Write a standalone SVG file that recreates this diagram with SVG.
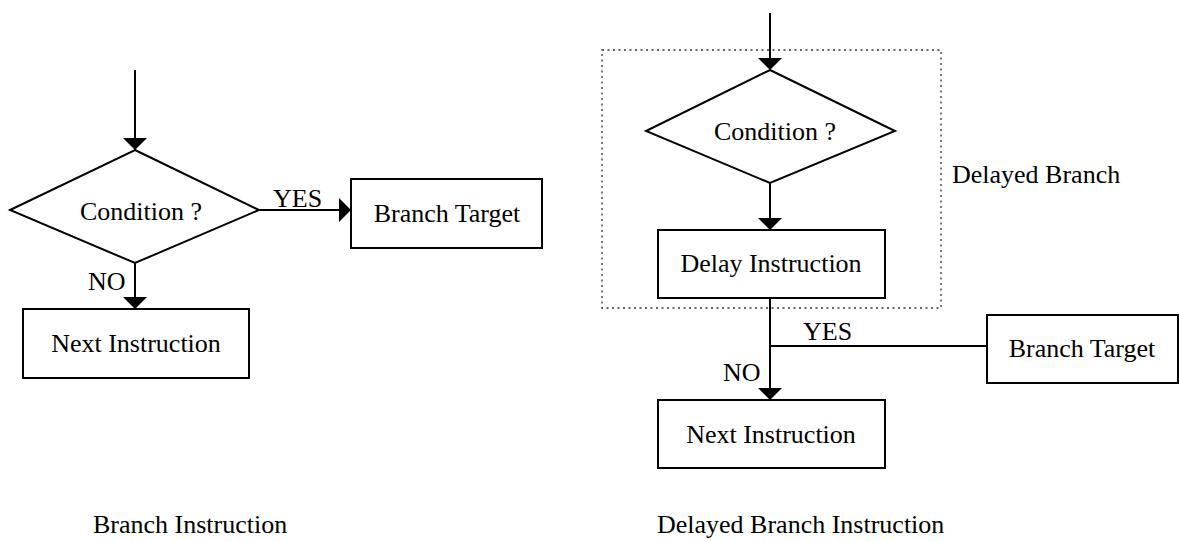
<svg xmlns="http://www.w3.org/2000/svg" width="1179" height="541" viewBox="0 0 1179 541">
<defs>
<style>
.shape{fill:#fff;stroke:#000;stroke-width:2}
.line{fill:none;stroke:#000;stroke-width:2}
.dot{fill:none;stroke:#333;stroke-width:1.3;stroke-dasharray:2 3.5}
text{font-family:"Liberation Serif","Times New Roman",serif;font-size:26px;fill:#000}
.c{text-anchor:middle}
</style>
<marker id="ah" viewBox="0 0 12 24" refX="12" refY="12" markerWidth="12" markerHeight="24" markerUnits="userSpaceOnUse" orient="auto">
<path d="M0,0 L12,12 L0,24 Z" fill="#000"/>
</marker>
</defs>
<rect width="1179" height="541" fill="#fff"/>
<g id="delayed-branch-group">
<rect class="dot" x="602" y="50" width="339" height="258"/>
<text x="952" y="183">Delayed Branch</text>
</g>
<g id="connectors">
<line class="line" x1="135" y1="70" x2="135" y2="150" marker-end="url(#ah)"/>
<line class="line" x1="259" y1="210" x2="351" y2="210" marker-end="url(#ah)"/>
<line class="line" x1="135" y1="263" x2="135" y2="309" marker-end="url(#ah)"/>
<text x="273" y="207">YES</text>
<text x="88" y="290">NO</text>
<line class="line" x1="770" y1="13" x2="770" y2="70" marker-end="url(#ah)"/>
<line class="line" x1="770" y1="183" x2="770" y2="230" marker-end="url(#ah)"/>
<line class="line" x1="770" y1="298" x2="770" y2="400" marker-end="url(#ah)"/>
<line class="line" x1="770" y1="346" x2="987" y2="346"/>
<text x="803" y="340">YES</text>
<text x="723" y="381">NO</text>
</g>
<g id="left-condition">
<polygon class="shape" points="135,150 259,210 135,263 10,210"/>
<text class="c" x="141" y="220">Condition ?</text>
</g>
<g id="left-branch-target">
<rect class="shape" x="351" y="179" width="191" height="69"/>
<text class="c" x="447" y="222">Branch Target</text>
</g>
<g id="left-next-instruction">
<rect class="shape" x="23" y="309" width="226" height="69"/>
<text class="c" x="136" y="352">Next Instruction</text>
</g>
<g id="right-condition">
<polygon class="shape" points="770,70 895,131 770,183 646,131"/>
<text class="c" x="775" y="140">Condition ?</text>
</g>
<g id="delay-instruction">
<rect class="shape" x="658" y="230" width="227" height="68"/>
<text class="c" x="771" y="272">Delay Instruction</text>
</g>
<g id="right-branch-target">
<rect class="shape" x="987" y="315" width="191" height="68"/>
<text class="c" x="1082" y="357">Branch Target</text>
</g>
<g id="right-next-instruction">
<rect class="shape" x="658" y="400" width="227" height="68"/>
<text class="c" x="771" y="443">Next Instruction</text>
</g>
<g id="captions">
<text x="93" y="533">Branch Instruction</text>
<text x="657" y="533">Delayed Branch Instruction</text>
</g>
</svg>
